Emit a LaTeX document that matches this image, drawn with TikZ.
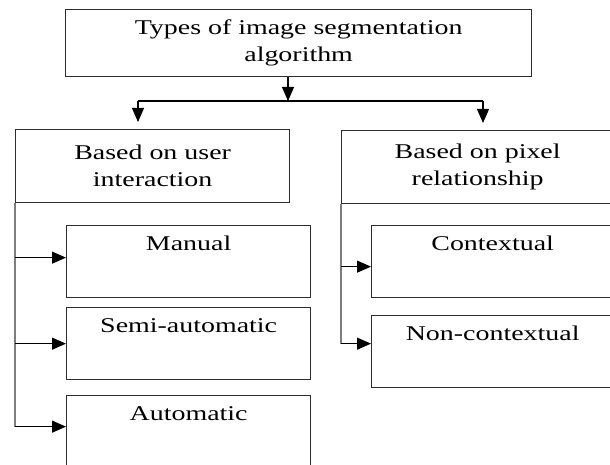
\documentclass[tikz,border=0pt]{standalone}
\usepackage{fontspec}
\setmainfont{Liberation Serif}[FakeStretch=1.33]
\usepackage{tikz}
\usetikzlibrary{arrows.meta, positioning}
\definecolor{boxline}{RGB}{45,45,45}
\definecolor{trunkline}{RGB}{125,125,125}
\tikzstyle{head} = [draw=boxline, line width=1.3pt, anchor=north west, align=center, font=\fontsize{21}{27}\selectfont]
\tikzstyle{leaf} = [draw=boxline, line width=1.3pt, anchor=north west, minimum width=244pt, font=\fontsize{21}{27}\selectfont, text height=19pt, text depth=41pt, inner ysep=6pt]
\tikzstyle{arrow} = [line width=1.1pt, -{Triangle[length=14pt,width=12pt]}]
\tikzstyle{trunk} = [draw=trunkline, line width=1.8pt]

\begin{document}
\begin{tikzpicture}[x=1pt, y=-1pt]
\useasboundingbox (0,0) rectangle (610,465);

% top and second level
\node[head, minimum width=466pt, minimum height=67pt] (types) at (65,9) {Types of image segmentation\\algorithm};
\node[head, minimum width=274pt, minimum height=73pt] (user) at (15,129) {Based on user\\interaction};
\node[head, minimum width=272pt, minimum height=73pt] (pixel) at (341,130) {Based on pixel\\relationship};

% leaves
\node[leaf] (manual) at (66,225) {Manual};
\node[leaf] (semi) at (66,307) {Semi-automatic};
\node[leaf] (auto) at (66,395) {Automatic};
\node[leaf, minimum width=242pt] (ctx) at (371,225) {Contextual};
\node[leaf, minimum width=242pt] (nonctx) at (371,315) {Non-contextual};

% split below the top box
\coordinate (split) at (288,101);
\coordinate (lsplit) at (138,101);
\coordinate (rsplit) at (483,101);
\draw[arrow] (types.south -| split) -- (split);
\draw[line width=1.1pt] (lsplit) -- (rsplit);
\draw[arrow, shorten >=7pt] (lsplit) -- (lsplit |- user.north);
\draw[arrow, shorten >=7pt] (rsplit) -- (rsplit |- pixel.north);

% left branch
\coordinate (manual-in) at ([yshift=4pt]manual.west);
\coordinate (semi-in) at (semi.west);
\coordinate (auto-in) at ([yshift=5pt]auto.west);
\draw[trunk] (user.south west) -- (user.south west |- auto-in);
\draw[arrow] (user.south west |- manual-in) -- (manual-in);
\draw[arrow] (user.south west |- semi-in) -- (semi-in);
\draw[arrow] (user.south west |- auto-in) -- (auto-in);

% right branch
\coordinate (ctx-in) at ([yshift=-5pt]ctx.west);
\coordinate (nonctx-in) at ([yshift=8pt]nonctx.west);
\draw[trunk] (pixel.south west) -- (pixel.south west |- nonctx-in);
\draw[arrow] (pixel.south west |- ctx-in) -- (ctx-in);
\draw[arrow] (pixel.south west |- nonctx-in) -- (nonctx-in);
\end{tikzpicture}
\end{document}
